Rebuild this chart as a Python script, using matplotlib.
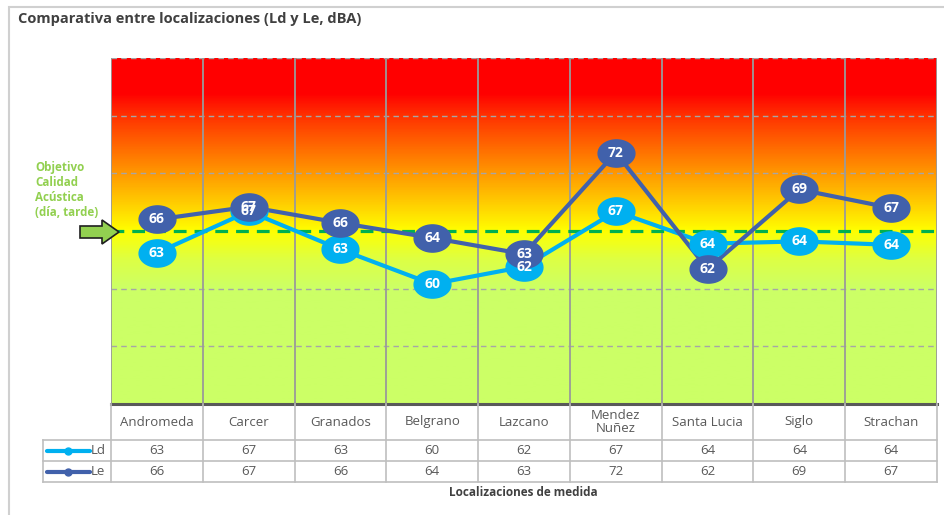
import numpy as np
import matplotlib
matplotlib.use("Agg")
import matplotlib.pyplot as plt
from matplotlib.colors import LinearSegmentedColormap
from matplotlib.path import Path
from matplotlib.patches import Rectangle, Polygon

plt.rcParams['font.family'] = ['Open Sans', 'DejaVu Sans']

# ---- data ----
categories = ["Andromeda", "Carcer", "Granados", "Belgrano", "Lazcano",
              "Mendez\nNuñez", "Santa Lucia", "Siglo", "Strachan"]
ld_values = [63.1, 66.7, 63.4, 60.4, 61.9, 66.7, 63.9, 64.1, 63.8]
le_values = [66.0, 67.1, 65.7, 64.4, 63.0, 71.8, 61.7, 68.6, 67.0]
ld_labels = [63, 67, 63, 60, 62, 67, 64, 64, 64]
le_labels = [66, 67, 66, 64, 63, 72, 62, 69, 67]
objective = 65
y_min, y_max = 50, 80
grid_levels = [55, 60, 70, 75, 80]

LD_COL = "#00B0F0"
LE_COL = "#4161AB"
TXT = "#595959"

W, H = 945, 515
fig = plt.figure(figsize=(W / 100, H / 100), dpi=100)

def fx(px):
    return px / W

def fy(py):
    return 1 - py / H

# outer border
fig.patches.append(Rectangle((fx(9), fy(520)), fx(960) - fx(9), fy(7) - fy(520),
                             transform=fig.transFigure, fill=False,
                             edgecolor="#D0D0D0", linewidth=1.5))

# title
fig.text(fx(18), fy(19), "Comparativa entre localizaciones (Ld y Le, dBA)",
         fontsize=10.5, fontweight="bold", color="#404040", va="center", ha="left")

# main axes
L, R, T, B = 111, 937, 58, 404
ax = fig.add_axes([fx(L), fy(B), fx(R) - fx(L), fy(T) - fy(B)])
n = len(categories)
x = np.arange(n)
ax.set_xlim(-0.5, n - 0.5)
ax.set_ylim(y_min, y_max)

# gradient background
stops = [(50, "#CCFF66"), (60, "#CCFF66"), (62.5, "#DDFF44"), (65, "#FFFF00"),
         (70, "#FF9900"), (75, "#FF3300"), (77, "#FF0000"), (80, "#FF0000")]
cmap = LinearSegmentedColormap.from_list(
    "bg", [((v - y_min) / (y_max - y_min), c) for v, c in stops])
grad = np.linspace(0, 1, 400).reshape(-1, 1)
ax.imshow(grad, cmap=cmap, aspect="auto", origin="lower",
          extent=(-0.5, n - 0.5, y_min, y_max), zorder=0, interpolation="bilinear")

for g in grid_levels:
    ax.axhline(g, color="#A6A6A6", linestyle=(0, (4, 3)), linewidth=1.0, zorder=1)
for i in range(n + 1):
    ax.axvline(i - 0.5, color="#9A9A9A", linewidth=1.3, zorder=1)
ax.axhline(objective, color="#00B050", linestyle=(0, (4, 2.5)), linewidth=2.3, zorder=2)

for s in ax.spines.values():
    s.set_visible(False)
ax.axhline(y_min, color="#595959", linewidth=2.2, zorder=3, clip_on=False)
ax.set_xticks([])
ax.set_yticks([])

# ellipse marker
t = np.linspace(0, 2 * np.pi, 60)
ell = Path(np.column_stack([np.cos(t), 0.74 * np.sin(t)]), closed=True)

ax.plot(x, ld_values, color=LD_COL, linewidth=3, zorder=4)
ax.plot(x, le_values, color=LE_COL, linewidth=3, zorder=5)
ax.plot(x, ld_values, linestyle="none", marker=ell, markersize=26.5,
        markerfacecolor=LD_COL, markeredgecolor=LD_COL, zorder=6)
ax.plot(x, le_values, linestyle="none", marker=ell, markersize=26.5,
        markerfacecolor=LE_COL, markeredgecolor=LE_COL, zorder=7)
for xi, v, lab in zip(x, ld_values, ld_labels):
    ax.text(xi, v, str(lab), color="white", fontsize=10, fontweight="bold",
            ha="center", va="center", zorder=8)
for xi, v, lab in zip(x, le_values, le_labels):
    ax.text(xi, v, str(lab), color="white", fontsize=10, fontweight="bold",
            ha="center", va="center", zorder=9)

# objective annotation
fig.text(fx(35), fy(190), "Objetivo\nCalidad\nAcústica\n(día, tarde)",
         color="#92D050", fontsize=8.4, fontweight="bold", ha="left", va="center",
         linespacing=1.2)
arrow = Polygon([(fx(80), fy(226)), (fx(102), fy(226)), (fx(102), fy(220)),
                 (fx(119), fy(232)), (fx(102), fy(244)), (fx(102), fy(238)),
                 (fx(80), fy(238))], closed=True, transform=fig.transFigure,
                facecolor="#92D050", edgecolor="#1F1F1F", linewidth=1.2, zorder=10)
fig.patches.append(arrow)

# table axes
TL, TB = 43, 482
tax = fig.add_axes([fx(TL), fy(TB), fx(R) - fx(TL), fy(B) - fy(TB)])
upp = n / (R - L)
x_left = -0.5 - (L - TL) * upp
hdr_top = TB - B
tax.set_xlim(x_left, n - 0.5)
tax.set_ylim(0, hdr_top)
tax.axis("off")
row_h = 21
gc = "#BFBFBF"

def px2x(px):
    return -0.5 + (px - L) * upp

for i in range(n + 1):
    tax.plot([i - 0.5, i - 0.5], [0, hdr_top], color=gc, linewidth=1.2, clip_on=False)
tax.plot([x_left, x_left], [0, 2 * row_h], color=gc, linewidth=1.2, clip_on=False)
for yy in [0, row_h, 2 * row_h]:
    tax.plot([x_left, n - 0.5], [yy, yy], color=gc, linewidth=1.2, clip_on=False)

for i, c in enumerate(categories):
    tax.text(i, (hdr_top + 2 * row_h) / 2, c, ha="center", va="center",
             fontsize=9.5, color=TXT, linespacing=1.0)
for i in range(n):
    tax.text(i, 1.5 * row_h, str(ld_labels[i]), ha="center", va="center",
             fontsize=9.5, color=TXT)
    tax.text(i, 0.5 * row_h, str(le_labels[i]), ha="center", va="center",
             fontsize=9.5, color=TXT)

for name, col, yy in [("Ld", LD_COL, 1.5 * row_h), ("Le", LE_COL, 0.5 * row_h)]:
    tax.plot([px2x(47), px2x(90)], [yy, yy], color=col, linewidth=3,
             solid_capstyle="round", clip_on=False)
    tax.plot([px2x(68)], [yy], marker="o", markersize=5, color=col, clip_on=False)
    tax.text(px2x(91), yy, name, ha="left", va="center", fontsize=9.5, color=TXT)

fig.text(fx(523), fy(493), "Localizaciones de medida", ha="center", va="center",
         fontsize=8.5, fontweight="bold", color="#404040")

fig.savefig("out.png", dpi=100)
